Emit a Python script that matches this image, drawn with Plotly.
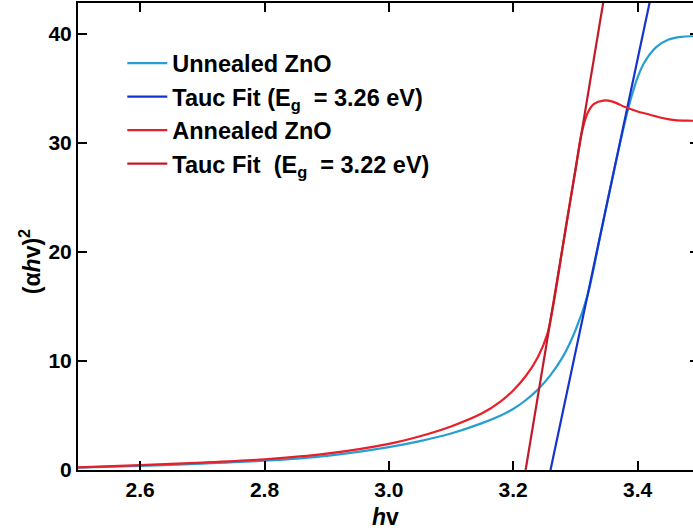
import plotly.graph_objects as go

# ---- data ----
hv_unannealed = [2.50, 2.60, 2.70, 2.80, 2.90, 3.00, 3.05, 3.10, 3.15, 3.18, 3.20, 3.22, 3.24, 3.26,
                 3.28, 3.30, 3.32, 3.34, 3.36, 3.38, 3.39, 3.40, 3.41, 3.43, 3.45, 3.47, 3.49, 3.50]
ahv2_unannealed = [0.22, 0.38, 0.58, 0.85, 1.30, 2.10, 2.65, 3.35, 4.3, 5.0, 5.6, 6.4, 7.4, 8.7,
                   10.4, 12.8, 16.1, 21.5, 26.9, 32.0, 34.2, 36.0, 37.3, 38.8, 39.5, 39.75, 39.8, 39.8]

hv_annealed = [2.50, 2.60, 2.70, 2.80, 2.90, 3.00, 3.05, 3.10, 3.15, 3.18, 3.20, 3.22, 3.24, 3.255,
               3.265, 3.28, 3.29, 3.30, 3.31, 3.32, 3.33, 3.345, 3.36, 3.38, 3.40, 3.42, 3.44, 3.46, 3.48, 3.50]
ahv2_annealed = [0.25, 0.45, 0.68, 0.98, 1.50, 2.40, 3.10, 4.00, 5.2, 6.3, 7.3, 8.6, 10.4, 12.5,
                 15.3, 20.6, 24.1, 27.5, 30.9, 32.8, 33.6, 33.9, 33.8, 33.3, 32.9, 32.6, 32.3, 32.1, 32.05, 32.05]

tauc_un_x = [3.26, 3.425]
tauc_un_y = [0.0, 44.4]
tauc_an_x = [3.22, 3.348]
tauc_an_y = [0.0, 44.0]

names = ["Unnealed ZnO",
         "Tauc Fit (E<sub>g</sub>\u00a0 = 3.26 eV)",
         "Annealed ZnO",
         "Tauc Fit\u00a0 (E<sub>g</sub>\u00a0 = 3.22 eV)"]

x_ticks = [2.6, 2.8, 3.0, 3.2, 3.4]
x_ticktext = ["2.6", "2.8", "3.0", "3.2", "3.4"]
y_ticks = [0, 10, 20, 30, 40]

x_range = [2.5, 3.4892]
y_range = [0, 42.85]

C_LBLUE = "rgb(38,158,210)"
C_BLUE = "rgb(22,52,205)"
C_RED = "rgb(232,30,40)"
C_DRED = "rgb(192,28,40)"

FONT = "Liberation Sans, Arial, sans-serif"

fig = go.Figure()
fig.add_trace(go.Scatter(x=hv_unannealed, y=ahv2_unannealed, mode="lines", name=names[0],
                         line=dict(color=C_LBLUE, width=2.2, shape="spline", smoothing=0.8)))
fig.add_trace(go.Scatter(x=tauc_un_x, y=tauc_un_y, mode="lines", name=names[1],
                         line=dict(color=C_BLUE, width=2.2)))
fig.add_trace(go.Scatter(x=hv_annealed, y=ahv2_annealed, mode="lines", name=names[2],
                         line=dict(color=C_RED, width=2.2, shape="spline", smoothing=0.8)))
fig.add_trace(go.Scatter(x=tauc_an_x, y=tauc_an_y, mode="lines", name=names[3],
                         line=dict(color=C_DRED, width=2.2)))
# helper trace so the right-hand tick stubs are drawn
fig.add_trace(go.Scatter(x=[], y=[], yaxis="y2", showlegend=False, hoverinfo="skip"))

fig.update_layout(
    width=693, height=531,
    margin=dict(l=78, r=0, t=3, b=61),
    paper_bgcolor="white", plot_bgcolor="white",
    font=dict(family=FONT, color="black"),
    showlegend=True,
    legend=dict(x=0.072, y=0.918, xanchor="left", yanchor="top",
                bgcolor="rgba(0,0,0,0)", borderwidth=0,
                font=dict(family=FONT, size=23.5, weight="bold", color="black"),
                tracegroupgap=0, itemwidth=40),
    xaxis=dict(range=x_range, tickvals=x_ticks, ticktext=x_ticktext,
               ticks="inside", ticklen=9, tickwidth=2, tickcolor="black",
               showline=True, linewidth=2, linecolor="black", mirror="ticks",
               showgrid=False, zeroline=False,
               tickfont=dict(family=FONT, size=21, weight="bold")),
    yaxis=dict(range=y_range, tickvals=y_ticks,
               ticks="inside", ticklen=9, tickwidth=2, tickcolor="black",
               showline=True, linewidth=2, linecolor="black", mirror=False,
               showgrid=False, zeroline=False,
               tickfont=dict(family=FONT, size=21, weight="bold")),
    yaxis2=dict(range=y_range, tickvals=y_ticks, overlaying="y", side="right",
                ticks="inside", ticklen=3, tickwidth=2, tickcolor="black",
                showline=False, showgrid=False, zeroline=False, showticklabels=False),
    annotations=[
        dict(text="(\u03b1<i>h</i>v)<sup>2</sup>", xref="paper", yref="paper",
             x=-0.078, y=0.445, xanchor="center", yanchor="middle",
             textangle=-90, showarrow=False,
             font=dict(family=FONT, size=23, weight="bold", color="black")),
        dict(text="<i>h</i>v", xref="paper", yref="paper",
             x=0.5, y=-0.1006, xanchor="center", yanchor="middle",
             showarrow=False,
             font=dict(family=FONT, size=23, weight="bold", color="black")),
    ],
)

fig.write_html("out.html")
